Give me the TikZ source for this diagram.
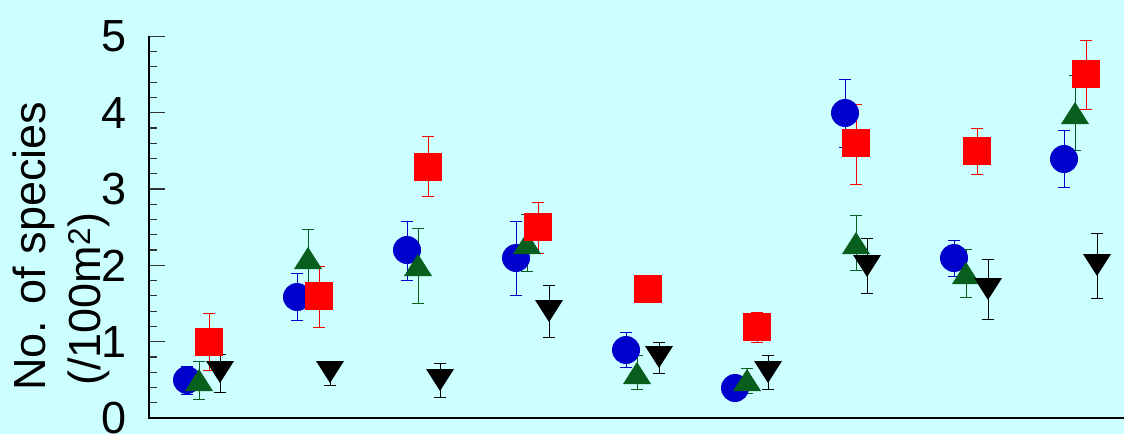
\documentclass[tikz,border=0pt]{standalone}
\usepackage{fontspec}
\setmainfont{Liberation Sans}
\definecolor{cbg}{RGB}{204,255,255}
\definecolor{cblue}{RGB}{0,0,204}
\definecolor{cgreen}{RGB}{8,94,28}
\definecolor{cred}{RGB}{255,0,0}
\newcommand\errbar[4]{\draw[ebar,#4] (#1,#2) -- (#1,#3) (#1-6,#2) -- (#1+6,#2) (#1-6,#3) -- (#1+6,#3);}
\newcommand\mcirc[2]{\fill[cblue] (#1,#2) circle (14pt);}
\newcommand\msq[2]{\fill[cred,shift={(#1,#2)}] (-14,-14) rectangle (14,14);}
\newcommand\mup[2]{\fill[cgreen,shift={(#1,#2)}] (0,-11) -- (14,11) -- (-14,11) -- cycle;}
\newcommand\mdown[2]{\fill[black,shift={(#1,#2)}] (0,11) -- (14,-11) -- (-14,-11) -- cycle;}
\begin{document}
\begin{tikzpicture}[x=1pt,y=-1pt,
  ebar/.style={line width=1pt},
  axisline/.style={line width=1.3pt,black},
  tickmark/.style={line width=1.2pt,black!80},
  ticklab/.style={anchor=east,inner sep=0pt,font=\fontsize{45}{54}\selectfont},
  ylab/.style={rotate=90,anchor=base west,inner sep=0pt,font=\fontsize{45}{54}\selectfont}]
\fill[cbg] (0,0) rectangle (1124,434);
\useasboundingbox (0,0) rectangle (1124,434);
% ticks
\foreach \i in {1,...,24} \draw[tickmark] (149,{418-15.2667*\i}) -- ++(8,0);
\foreach \v in {1,...,5} \draw[tickmark] (149,{418-76.333*\v}) -- ++(16,0);
\foreach \v in {0,...,5} \node[ticklab] (t\v) at (127,{418-76.333*\v}) {\v};
% axes
\draw[axisline] (149,36.3) -- (149,418) -- (1124,418);
% y label
\node[ylab] (ylab1) at (45,391) {No. of species};
\node[ylab] (ylab2) at (100,386) {(/100m\textsuperscript{2})};
% error bars
\errbar{187}{366}{394}{cblue}
\errbar{199}{361}{399}{cgreen}
\errbar{209}{313}{370}{cred}
\errbar{220}{354}{392}{black}
\errbar{297}{273}{320}{cblue}
\errbar{308}{229}{287}{cgreen}
\errbar{319}{266}{327}{cred}
\errbar{330}{361}{385}{black}
\errbar{407}{221}{280}{cblue}
\errbar{418}{228}{303}{cgreen}
\errbar{428}{136}{196}{cred}
\errbar{440}{363}{397}{black}
\errbar{516}{221}{295}{cblue}
\errbar{527}{214}{271}{cgreen}
\errbar{538}{202}{253}{cred}
\errbar{549}{285}{337}{black}
\errbar{626}{332}{367}{cblue}
\errbar{637}{355}{389}{cgreen}
\errbar{659}{342}{373}{black}
\errbar{747}{368}{393}{cgreen}
\errbar{757}{312}{342}{cred}
\errbar{768}{355}{389}{black}
\errbar{845}{79}{147}{cblue}
\errbar{856}{104}{184}{cred}
\errbar{856}{215}{270}{cgreen}
\errbar{867}{238}{293}{black}
\errbar{954}{240}{276}{cblue}
\errbar{966}{249}{297}{cgreen}
\errbar{977}{128}{174}{cred}
\errbar{988}{259}{319}{black}
\errbar{1064}{130}{187}{cblue}
\errbar{1075}{75}{150}{cgreen}
\errbar{1086}{40}{109}{cred}
\errbar{1097}{233}{298}{black}
% circles
\mcirc{187}{380}\mcirc{297}{297}\mcirc{407}{250}\mcirc{516}{258}\mcirc{626}{350}
\mcirc{735}{388}\mcirc{845}{113}\mcirc{954}{258}\mcirc{1064}{159}
% triangles
\mup{199}{380}\mup{308}{258}\mup{418}{265}\mup{527}{243}\mup{637}{373}
\mup{747}{380}\mup{856}{243}\mup{966}{273}\mup{1075}{113}
% squares
\msq{209}{342}\msq{319}{296}\msq{428}{167}\msq{538}{227}\msq{648}{289}
\msq{757}{327}\msq{856}{143}\msq{977}{151}\msq{1086}{74}
% down triangles
\mdown{220}{372}\mdown{330}{372}\mdown{440}{380}\mdown{549}{311}\mdown{659}{357}
\mdown{768}{372}\mdown{867}{266}\mdown{988}{289}\mdown{1097}{265}
\end{tikzpicture}
\end{document}
